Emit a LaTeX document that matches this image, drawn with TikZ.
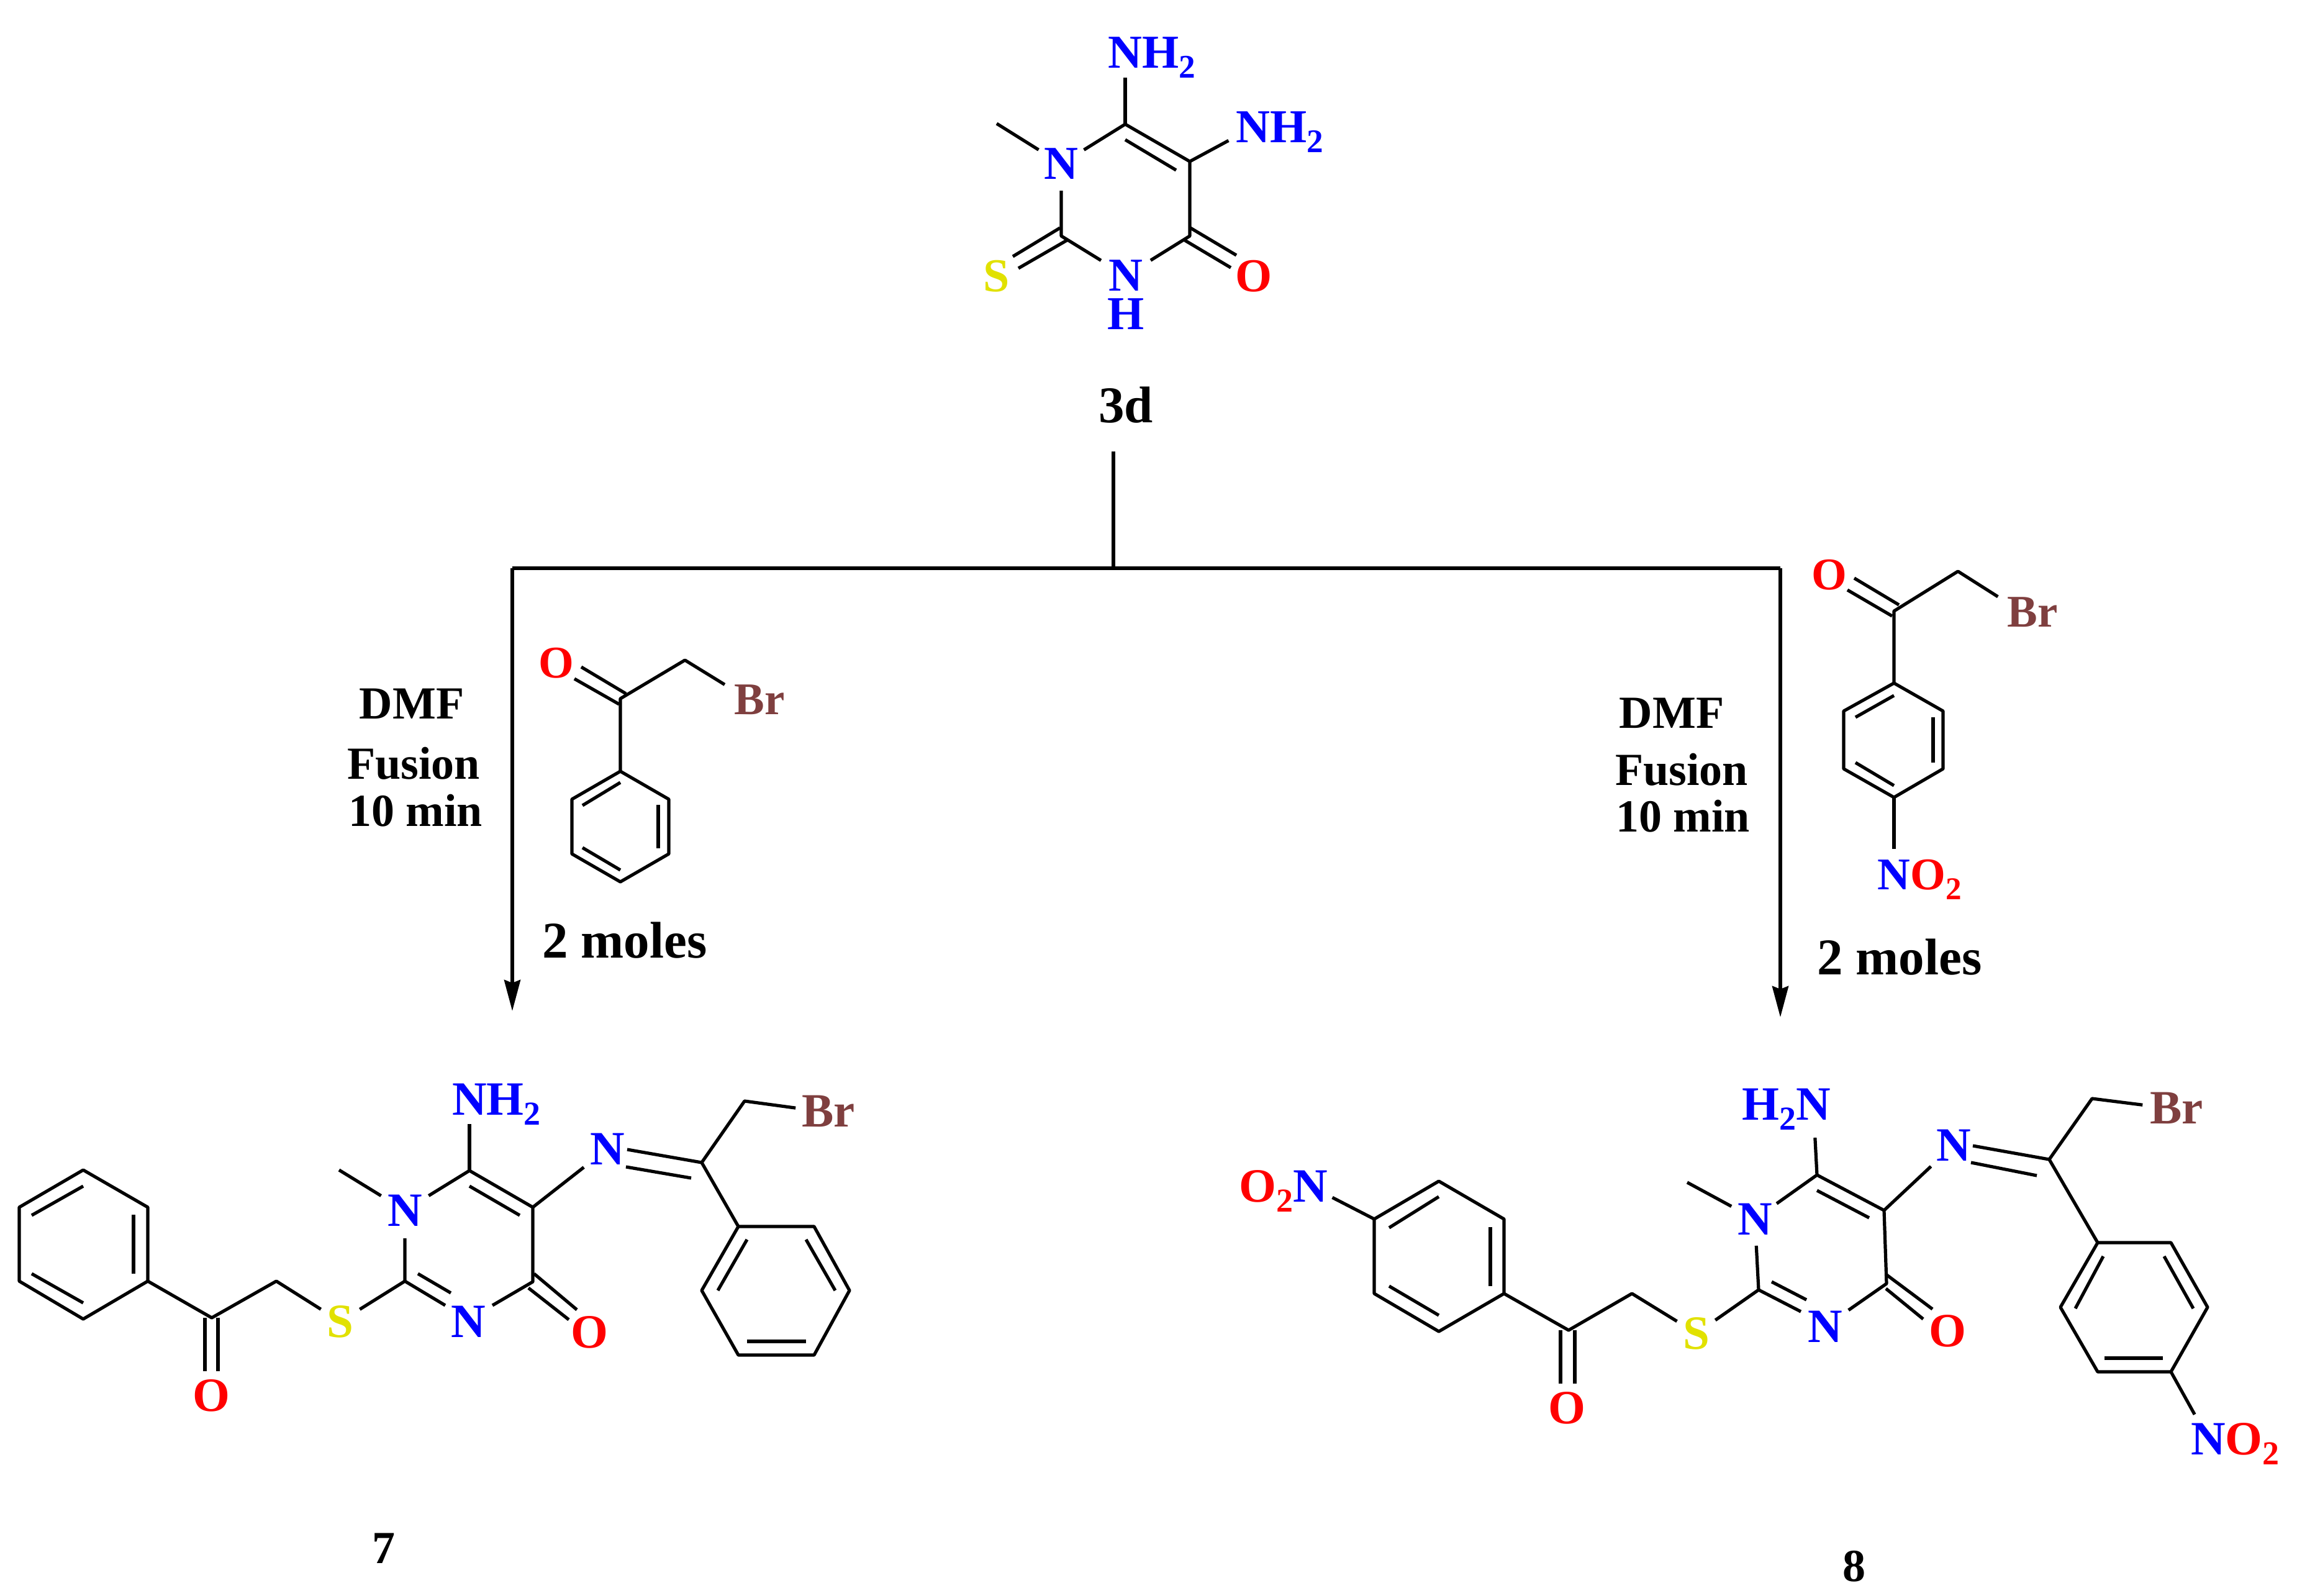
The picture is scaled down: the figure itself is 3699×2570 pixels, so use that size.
\documentclass[tikz,border=0pt]{standalone}
\usepackage{fontspec}
\setmainfont{Liberation Serif}
\usetikzlibrary{arrows.meta}
\definecolor{cN}{HTML}{0000FF}
\definecolor{cO}{HTML}{FF0000}
\definecolor{cS}{HTML}{E1E100}
\definecolor{cBr}{HTML}{7F3F3F}
\newcommand\subtwo{\raisebox{-.21em}{\scalebox{.7}{2}}}
\newcommand\ptat[3]{\coordinate (#1) at (#2,#3);}
\tikzset{
  atom/.style={circle,inner sep=0pt,outer sep=0pt,minimum size=#1*0.5pt},
  topf/.style={font=\fontsize{19}{24}\selectfont\bfseries},
  molf/.style={font=\fontsize{19.25}{22}\selectfont\bfseries},
  regf/.style={font=\fontsize{18.25}{22}\selectfont\bfseries},
  caption/.style={anchor=base,inner sep=0pt,outer sep=0pt,font=\fontsize{18.5}{22}\selectfont\bfseries},
  bigcap/.style={anchor=base,inner sep=0pt,outer sep=0pt,font=\fontsize{20.75}{24}\selectfont\bfseries},
  bond/.style={line width=1.3pt,line join=round,line cap=butt},
  flow/.style={line width=1.35pt,line join=miter},
  flowtip/.style={flow,-{Stealth[length=12.5pt,width=6.5pt,inset=1.2pt]}}
}
\begin{document}
\begin{tikzpicture}[x=0.25pt,y=-0.25pt]
\useasboundingbox (0,0) rectangle (3699,2570);
% ---------- scheme arrows
\ptat{stem}{1793}{727}\ptat{junc}{1793}{915}\ptat{lc}{825}{915}\ptat{rc}{2867}{915}
\ptat{lt}{825}{1628}\ptat{rt}{2867}{1638}
\draw[flow] (stem)--(junc);
\draw[flow] (lc)--(rc);
\draw[flowtip] (lc)--(lt);
\draw[flowtip] (rc)--(rt);
% ---------- captions
\node[bigcap] (c3d) at (1813,680) {3d};
\node[caption] (c7) at (618,2517) {7};
\node[caption] (c8) at (2986,2546) {8};
\node[caption] (ldmf) at (663,1157) {DMF};
\node[caption] (lfus) at (666,1254) {Fusion};
\node[caption] (lmin) at (669,1330) {10 min};
\node[bigcap] (lmol) at (1006,1542) {2 moles};
\node[caption] (rdmf) at (2692,1172) {DMF};
\node[caption] (rfus) at (2708,1264) {Fusion};
\node[caption] (rmin) at (2710,1339) {10 min};
\node[bigcap] (rmol) at (3059,1569) {2 moles};
% ---------- top molecule 3d
\node[atom=43,topf,text=cN] (tN1) at (1709,264) {N};
\node[atom=47,topf,text=cN] (tN3) at (1813,444) {N};
\node[atom=30,topf,text=cN] (tH) at (1813,506) {H};
\node[atom=40,topf,text=cN] (tNa) at (1812,85) {N\smash{\rlap{H\subtwo}}};
\node[atom=45,topf,text=cN] (tNb) at (2018,205) {N\smash{\rlap{H\subtwo}}};
\node[atom=30,topf,text=cO] (tO) at (2019,445) {O};
\node[atom=30,topf,text=cS] (tS) at (1605,445) {S};
\ptat{tC6}{1812}{200}\ptat{tC5}{1916}{260}\ptat{tC4}{1916}{380}\ptat{tC2}{1709}{380}\ptat{tMe}{1605}{199}
\ptat{ti1}{1812}{225}\ptat{ti2}{1894}{274}
\ptat{ts1}{1707}{367}\ptat{ts2}{1631}{413}\ptat{ts3}{1718}{387}\ptat{ts4}{1640}{432}
\ptat{to1}{1917}{367}\ptat{to2}{1991}{411}\ptat{to3}{1908}{387}\ptat{to4}{1982}{431}
\draw[bond] (tMe)--(tN1);
\draw[bond] (tN1)--(tC6)--(tC5)--(tC4)--(tN3)--(tC2)--(tN1);
\draw[bond] (ti1)--(ti2);
\draw[bond] (tC6)--(tNa);
\draw[bond] (tC5)--(tNb);
\draw[bond] (ts1)--(ts2);
\draw[bond] (ts3)--(ts4);
\draw[bond] (to1)--(to2);
\draw[bond] (to3)--(to4);
% ---------- left reagent
\node[atom=30,regf,text=cO] (lO) at (896,1068) {O};
\node[atom=47,regf,text=cBr] (lBr) at (1207,1127) {B\smash{\rlap{r}}};
\ptat{lC}{999}{1125}\ptat{lCH}{1103}{1063}
\ptat{lr1}{999}{1242}\ptat{lr2}{1077}{1287}\ptat{lr3}{1077}{1375}\ptat{lr4}{999}{1420}\ptat{lr5}{921}{1375}\ptat{lr6}{921}{1287}
\ptat{li1}{938}{1297}\ptat{li2}{999}{1260}\ptat{li3}{1060}{1296}\ptat{li4}{1060}{1366}\ptat{li5}{938}{1365}\ptat{li6}{999}{1401}
\ptat{lo1}{1008}{1117}\ptat{lo2}{936}{1074}\ptat{lo3}{997}{1134}\ptat{lo4}{925}{1093}
\draw[bond] (lr1)--(lr2)--(lr3)--(lr4)--(lr5)--(lr6)--cycle;
\draw[bond] (li1)--(li2);
\draw[bond] (li3)--(li4);
\draw[bond] (li5)--(li6);
\draw[bond] (lr1)--(lC)--(lCH)--(lBr);
\draw[bond] (lo1)--(lo2);
\draw[bond] (lo3)--(lo4);
% ---------- right reagent
\node[atom=30,regf,text=cO] (rO) at (2946,926) {O};
\node[atom=47,regf,text=cBr] (rBr) at (3257,986) {B\smash{\rlap{r}}};
\node[atom=42,regf,text=cN] (rN) at (3050,1409) {N\smash{\rlap{\textcolor{cO}{O\subtwo}}}};
\ptat{rC}{3050}{984}\ptat{rCH}{3153}{920}
\ptat{rr1}{3050}{1100}\ptat{rr2}{3129}{1145}\ptat{rr3}{3129}{1238}\ptat{rr4}{3050}{1284}\ptat{rr5}{2969}{1238}\ptat{rr6}{2969}{1145}
\ptat{ri1}{2988}{1155}\ptat{ri2}{3050}{1120}\ptat{ri3}{3113}{1155}\ptat{ri4}{3113}{1228}\ptat{ri5}{2988}{1228}\ptat{ri6}{3050}{1265}
\ptat{ro1}{3058}{974}\ptat{ro2}{2986}{931}\ptat{ro3}{3047}{992}\ptat{ro4}{2975}{950}
\draw[bond] (rr1)--(rr2)--(rr3)--(rr4)--(rr5)--(rr6)--cycle;
\draw[bond] (ri1)--(ri2);
\draw[bond] (ri3)--(ri4);
\draw[bond] (ri5)--(ri6);
\draw[bond] (rr1)--(rC)--(rCH)--(rBr);
\draw[bond] (rr4)--(rN);
\draw[bond] (ro1)--(ro2);
\draw[bond] (ro3)--(ro4);
% ---------- product 7
\node[atom=45,molf,text=cN] (aN1) at (652,1949) {N};
\node[atom=30,molf,text=cN] (aN3) at (754,2128) {N};
\node[atom=40,molf,text=cN] (aNa) at (756,1770) {N\smash{\rlap{H\subtwo}}};
\node[atom=48,molf,text=cN] (aNi) at (978,1850) {N};
\node[atom=37,molf,text=cS] (aS) at (548,2128) {S};
\node[atom=30,molf,text=cO] (aOa) at (340,2247) {O};
\node[atom=30,molf,text=cO] (aOb) at (949,2145) {O};
\node[atom=36,molf,text=cBr] (aBr) at (1317,1789) {B\smash{\rlap{r}}};
\ptat{aC6}{756}{1885}\ptat{aC5}{858}{1944}\ptat{aC4}{858}{2064}\ptat{aC2}{652}{2063}\ptat{aMe}{546}{1884}
\ptat{aCO}{341}{2122}\ptat{aCH}{445}{2063}\ptat{aCi}{1130}{1872}\ptat{aCb}{1199}{1773}
\ptat{an3}{717}{2102}\ptat{an4}{793}{2102}
\ptat{ai1}{756}{1910}\ptat{ai2}{837}{1957}\ptat{ai3}{673}{2051}\ptat{ai4}{726}{2082}
\ptat{ao1}{330}{2122}\ptat{ao2}{330}{2208}\ptat{ao3}{351}{2122}\ptat{ao4}{351}{2208}
\ptat{ao5}{851}{2074}\ptat{ao6}{916}{2125}\ptat{ao7}{860}{2051}\ptat{ao8}{929}{2109}
\ptat{aq1}{1010}{1851}\ptat{aq3}{1008}{1879}\ptat{aq4}{1113}{1897}
\ptat{ap1}{134}{1884}\ptat{ap2}{238}{1944}\ptat{ap3}{238}{2063}\ptat{ap4}{134}{2124}\ptat{ap5}{31}{2063}\ptat{ap6}{31}{1944}
\ptat{ah1}{215}{1956}\ptat{ah2}{215}{2051}\ptat{ah3}{51}{1957}\ptat{ah4}{134}{1910}\ptat{ah5}{51}{2051}\ptat{ah6}{134}{2098}
\ptat{ax1}{1189}{1975}\ptat{ax2}{1311}{1975}\ptat{ax3}{1368}{2078}\ptat{ax4}{1311}{2182}\ptat{ax5}{1189}{2182}\ptat{ax6}{1130}{2078}
\ptat{ay1}{1203}{1996}\ptat{ay2}{1156}{2078}\ptat{ay3}{1298}{1996}\ptat{ay4}{1345}{2078}\ptat{ay5}{1203}{2160}\ptat{ay6}{1298}{2160}
\draw[bond] (aMe)--(aN1);
\draw[bond] (aN1)--(aC6)--(aC5)--(aC4)--(an4);
\draw[bond] (an3)--(aC2)--(aN1);
\draw[bond] (ai1)--(ai2);
\draw[bond] (ai3)--(ai4);
\draw[bond] (aC6)--(aNa);
\draw[bond] (aC5)--(aNi);
\draw[bond] (aC2)--(aS)--(aCH)--(aCO)--(ap3);
\draw[bond] (ap1)--(ap2)--(ap3)--(ap4)--(ap5)--(ap6)--cycle;
\draw[bond] (ah1)--(ah2);
\draw[bond] (ah3)--(ah4);
\draw[bond] (ah5)--(ah6);
\draw[bond] (ao1)--(ao2);
\draw[bond] (ao3)--(ao4);
\draw[bond] (ao5)--(ao6);
\draw[bond] (ao7)--(ao8);
\draw[bond] (aq1)--(aCi);
\draw[bond] (aq3)--(aq4);
\draw[bond] (ax1)--(aCi)--(aCb)--(aBr);
\draw[bond] (ax1)--(ax2)--(ax3)--(ax4)--(ax5)--(ax6)--cycle;
\draw[bond] (ay1)--(ay2);
\draw[bond] (ay3)--(ay4);
\draw[bond] (ay5)--(ay6);
% ---------- product 8
\node[atom=43,molf,text=cN] (bN1) at (2826,1963) {N};
\node[atom=46,molf,text=cN] (bN3) at (2939,2136) {N};
\node[atom=54,molf,text=cN] (bNa) at (2920,1778) {\smash{\llap{H\subtwo}}N};
\node[atom=50,molf,text=cN] (bNi) at (3146,1844) {N};
\node[atom=37,molf,text=cS] (bS) at (2732,2147) {S};
\node[atom=30,molf,text=cO] (bOa) at (2523,2267) {O};
\node[atom=30,molf,text=cO] (bOb) at (3136,2143) {O};
\node[atom=38,molf,text=cBr] (bBr) at (3488,1784) {B\smash{\rlap{r}}};
\node[atom=40,molf,text=cN] (bNL) at (2110,1910) {\smash{\llap{\textcolor{cO}{O\subtwo}}}N};
\node[atom=45,molf,text=cN] (bNR) at (3556,2317) {N\smash{\rlap{\textcolor{cO}{O\subtwo}}}};
\ptat{bC6}{2926}{1892}\ptat{bC5}{3034}{1949}\ptat{bC4}{3038}{2067}\ptat{bC2}{2832}{2077}\ptat{bMe}{2717}{1904}
\ptat{bCO}{2526}{2142}\ptat{bCH}{2628}{2083}\ptat{bCi}{3300}{1867}\ptat{bCb}{3369}{1769}
\ptat{bn3}{2900}{2112}
\ptat{bi1}{2926}{1917}\ptat{bi2}{3010}{1961}\ptat{bi3}{2853}{2064}\ptat{bi4}{2909}{2093}
\ptat{bo1}{2513}{2142}\ptat{bo2}{2513}{2228}\ptat{bo3}{2536}{2142}\ptat{bo4}{2536}{2228}
\ptat{bo5}{3037}{2075}\ptat{bo6}{3097}{2124}\ptat{bo7}{3037}{2052}\ptat{bo8}{3112}{2108}
\ptat{bq1}{3177}{1845}\ptat{bq3}{3174}{1872}\ptat{bq4}{3280}{1893}
\ptat{bp1}{2317}{1902}\ptat{bp2}{2422}{1963}\ptat{bp3}{2422}{2083}\ptat{bp4}{2317}{2144}\ptat{bp5}{2213}{2083}\ptat{bp6}{2213}{1963}
\ptat{bh1}{2400}{1976}\ptat{bh2}{2400}{2071}\ptat{bh3}{2237}{1977}\ptat{bh4}{2317}{1927}\ptat{bh5}{2237}{2071}\ptat{bh6}{2317}{2118}
\ptat{bx1}{3378}{2001}\ptat{bx2}{3496}{2001}\ptat{bx3}{3555}{2105}\ptat{bx4}{3496}{2209}\ptat{bx5}{3378}{2209}\ptat{bx6}{3318}{2105}
\ptat{by1}{3387}{2023}\ptat{by2}{3342}{2107}\ptat{by3}{3485}{2023}\ptat{by4}{3532}{2107}\ptat{by5}{3389}{2187}\ptat{by6}{3483}{2187}
\draw[bond] (bMe)--(bN1);
\draw[bond] (bN1)--(bC6)--(bC5)--(bC4)--(bN3);
\draw[bond] (bn3)--(bC2)--(bN1);
\draw[bond] (bi1)--(bi2);
\draw[bond] (bi3)--(bi4);
\draw[bond] (bC6)--(bNa);
\draw[bond] (bC5)--(bNi);
\draw[bond] (bC2)--(bS)--(bCH)--(bCO)--(bp3);
\draw[bond] (bp1)--(bp2)--(bp3)--(bp4)--(bp5)--(bp6)--cycle;
\draw[bond] (bp6)--(bNL);
\draw[bond] (bh1)--(bh2);
\draw[bond] (bh3)--(bh4);
\draw[bond] (bh5)--(bh6);
\draw[bond] (bo1)--(bo2);
\draw[bond] (bo3)--(bo4);
\draw[bond] (bo5)--(bo6);
\draw[bond] (bo7)--(bo8);
\draw[bond] (bq1)--(bCi);
\draw[bond] (bq3)--(bq4);
\draw[bond] (bx1)--(bCi)--(bCb)--(bBr);
\draw[bond] (bx1)--(bx2)--(bx3)--(bx4)--(bx5)--(bx6)--cycle;
\draw[bond] (by1)--(by2);
\draw[bond] (by3)--(by4);
\draw[bond] (by5)--(by6);
\draw[bond] (bx4)--(bNR);
\end{tikzpicture}
\end{document}
